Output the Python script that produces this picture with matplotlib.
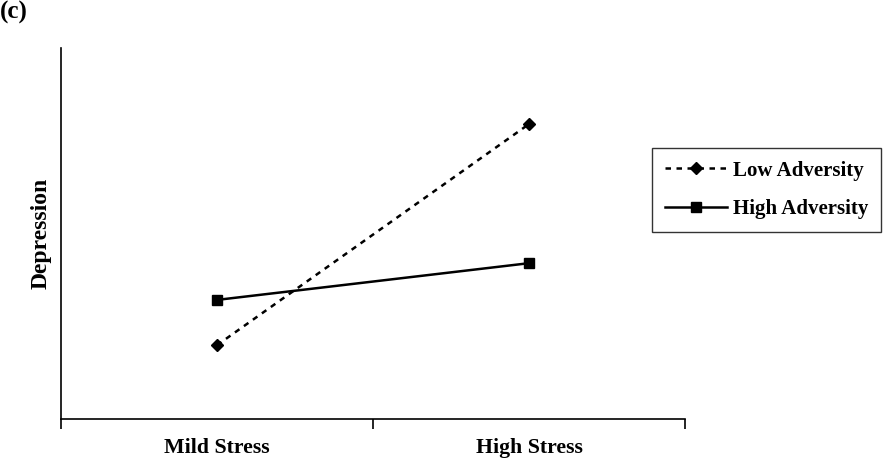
import matplotlib
matplotlib.use("Agg")
import matplotlib.pyplot as plt
from matplotlib.ticker import FixedLocator, NullFormatter, FixedFormatter

plt.rcParams['font.family'] = ['Liberation Serif', 'DejaVu Serif']
plt.rcParams['font.weight'] = 'bold'

categories = ["Mild Stress", "High Stress"]
low_adversity = [1.99, 7.95]
high_adversity = [3.21, 4.20]

fig = plt.figure(figsize=(8.85, 4.59), dpi=100)
ax = fig.add_axes([61/885, 40/459, (685-61)/885, (419-48)/459])

x = [0.5, 1.5]
ax.plot(x, low_adversity, color='black', linestyle=(0, (2.2, 2.2)), linewidth=1.8,
        marker='D', markersize=6, label='Low Adversity')
ax.plot(x, high_adversity, color='black', linestyle='-', linewidth=1.8,
        marker='s', markersize=6.5, label='High Adversity')

ax.set_xlim(0, 2)
ax.set_ylim(0, 10)
ax.spines['top'].set_visible(False)
ax.spines['right'].set_visible(False)
ax.spines['left'].set_linewidth(1.2)
ax.spines['bottom'].set_linewidth(1.2)
ax.set_yticks([])
ax.xaxis.set_major_locator(FixedLocator([0, 1, 2]))
ax.xaxis.set_major_formatter(NullFormatter())
ax.xaxis.set_minor_locator(FixedLocator(x))
ax.xaxis.set_minor_formatter(FixedFormatter(categories))
ax.tick_params(axis='x', which='major', length=7, width=1.2, direction='out')
ax.tick_params(axis='x', which='minor', length=0, pad=14, labelsize=15.7)
for lbl in ax.get_xticklabels(minor=True):
    lbl.set_fontweight('bold')

ax.set_ylabel('Depression', fontsize=17, fontweight='bold', labelpad=7)

leg = ax.legend(loc='center left', bbox_to_anchor=(652/885, 1 - 190/459), bbox_transform=fig.transFigure,
                fontsize=15, frameon=True, fancybox=False, edgecolor='black',
                handlelength=3.0, borderpad=0.6, labelspacing=0.9, handletextpad=0.3,
                borderaxespad=0)
leg.get_frame().set_linewidth(1.0)
for t in leg.get_texts():
    t.set_fontweight('bold')

fig.text(0.0, 1 - 1/459, '(c)', fontsize=18, fontweight='bold', va='top', ha='left')

fig.savefig('out.png', dpi=100)
